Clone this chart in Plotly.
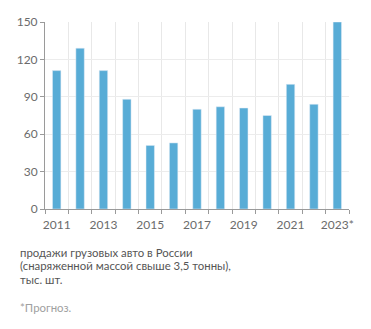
import plotly.graph_objects as go

years = ["2011", "2012", "2013", "2014", "2015", "2016", "2017", "2018", "2019", "2020", "2021", "2022", "2023*"]
sales = [111, 129, 111, 88, 51, 53, 80, 82, 81, 75, 100, 84, 150]
y_ticks = [0, 30, 60, 90, 120, 150]
note_lines = [
    "продажи грузовых авто в России",
    "(снаряженной массой свыше 3,5 тонны),",
    "тыс. шт.",
]
footnote = "*Прогноз."

idx = list(range(len(years)))
label_idx = idx[::2]
label_text = [years[i] for i in label_idx]
bounds = [i - 0.5 for i in range(len(years) + 1)]

FONT = "Lato"
PLOT_L, PLOT_T, PLOT_B, PLOT_W = 45, 22, 209, 304
fig = go.Figure(go.Bar(x=idx, y=sales, marker_color="#58acd6", width=0.36, hoverinfo="skip"))

fig.update_layout(
    width=371, height=329,
    margin=dict(l=PLOT_L, r=371 - PLOT_L - PLOT_W, t=PLOT_T, b=329 - PLOT_B),
    paper_bgcolor="white", plot_bgcolor="white",
    showlegend=False,
    font=dict(family=FONT, size=12, color="#6b6b6b"),
    xaxis=dict(
        range=[-0.5, len(years) - 0.5],
        tickmode="array", tickvals=label_idx, ticktext=label_text,
        showgrid=False, ticks="", showline=True, linecolor="#9a9a9a", linewidth=1,
        tickfont=dict(size=12, color="#6b6b6b"), ticklabelstandoff=5,
        minor=dict(tickmode="array", tickvals=bounds, showgrid=True, gridcolor="#e8e8e8",
                   gridwidth=1, ticks="outside", ticklen=4, tickcolor="#9a9a9a"),
        zeroline=False,
    ),
    yaxis=dict(
        range=[0, 150], tickmode="array", tickvals=y_ticks,
        showgrid=True, gridcolor="#ececec", gridwidth=1,
        ticks="outside", ticklen=4, tickcolor="#9a9a9a",
        showline=True, linecolor="#9a9a9a", linewidth=1,
        zeroline=False, tickfont=dict(size=12, color="#6b6b6b"),
    ),
)

def add_line(text, ycenter_px, col):
    fig.add_annotation(
        text=text, xref="paper", yref="paper",
        x=(18 - PLOT_L) / PLOT_W, y=(PLOT_B - ycenter_px) / (PLOT_B - PLOT_T),
        xanchor="left", yanchor="middle", align="left", showarrow=False,
        font=dict(family=FONT, size=11.4, color=col),
    )

for i, line in enumerate(note_lines):
    add_line(line, 252 + 13.5 * i, "#555555")
add_line(footnote, 307, "#a0a0a0")

fig.write_html("out.html")
